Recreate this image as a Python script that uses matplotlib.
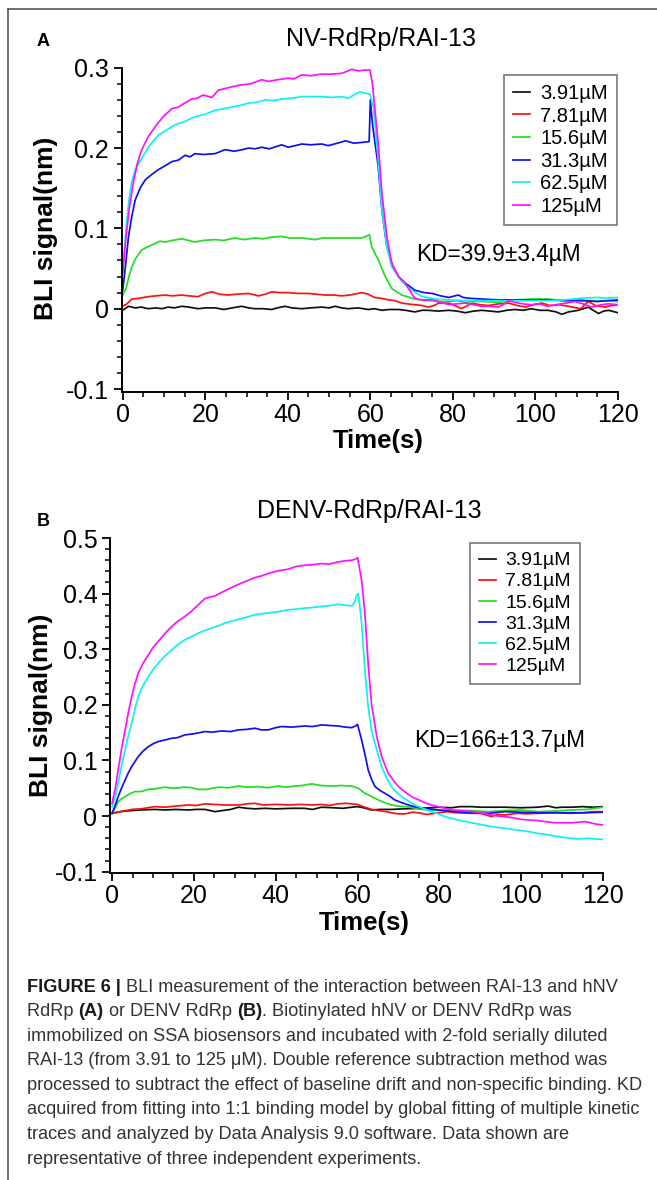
import matplotlib
matplotlib.use('Agg')
import matplotlib.pyplot as plt
from matplotlib.lines import Line2D
from matplotlib.ticker import MultipleLocator, FuncFormatter

plt.rcParams['font.family'] = ['Liberation Sans', 'DejaVu Sans']
plt.rcParams['axes.unicode_minus'] = False

conc_labels = ['3.91µM', '7.81µM', '15.6µM', '31.3µM', '62.5µM', '125µM']
line_colors = ['#111111', '#ff1010', '#22dd22', '#1010ee', '#10f0f0', '#ff10ff']

# ---- panel A: NV-RdRp / RAI-13 ----
a_t_391 = [0, 1.4, 3, 4.5, 6.2, 8, 9.5, 11, 12.5, 14.3, 16, 18.3, 20, 22.4, 24.5, 26.5, 28.8, 30.5, 32, 34, 36.1,
           37.5, 39.3, 41, 43.4, 45.5, 48.2, 50, 51.5, 53, 54.7, 57, 59.5, 61, 62.8, 64.5, 66.8, 68.5, 70.8, 72.5,
           74, 76.5, 79, 81, 83, 85, 87, 89, 91, 93, 95, 97, 99, 101, 103, 105, 106.4, 108, 110.4, 112.8, 114,
           115.3, 116.5, 117.7, 120]
a_v_391 = [-0.002, 0.003, 0.001, 0.002, 0.000, 0.001, 0.000, 0.002, 0.001, 0.003, 0.002, 0.000, 0.001, 0.001,
           -0.001, 0.001, 0.003, 0.001, 0.000, 0.000, -0.001, 0.001, 0.003, 0.001, 0.000, 0.001, 0.002, 0.001,
           0.003, 0.001, 0.000, 0.001, -0.001, 0.000, -0.002, -0.001, -0.001, -0.002, -0.004, -0.002, -0.002,
           -0.003, -0.002, -0.003, -0.005, -0.003, -0.002, -0.003, -0.004, -0.002, -0.001, -0.002, 0.000, -0.002,
           -0.002, -0.004, -0.007, -0.004, -0.002, 0.002, -0.002, -0.006, -0.003, -0.002, -0.005]

a_t_781 = [0, 1, 2.2, 4, 6.2, 8, 10.3, 12, 14.3, 16, 18.3, 20, 21.6, 23.5, 25.6, 27.5, 30.5, 32.9, 34.5, 36.1, 38,
           40.1, 42.5, 44.9, 47, 49, 51, 53, 55, 58, 59.5, 61, 62.5, 64.4, 66, 67.6, 69, 70.8, 72.5, 74, 75.5, 76.5,
           78, 79, 80.5, 82, 83.2, 84.6, 86.5, 88.6, 91, 93.5, 95.5, 97.6, 99.5, 101.5, 103.5, 105.6, 108, 111,
           112.8, 114.5, 116.8, 118.5, 120]
a_v_781 = [0.003, 0.006, 0.012, 0.013, 0.015, 0.016, 0.017, 0.016, 0.017, 0.016, 0.015, 0.019, 0.021, 0.018,
           0.017, 0.018, 0.019, 0.016, 0.018, 0.021, 0.020, 0.020, 0.019, 0.019, 0.018, 0.017, 0.017, 0.016, 0.017,
           0.020, 0.018, 0.014, 0.013, 0.011, 0.010, 0.007, 0.006, 0.005, 0.004, 0.002, 0.004, 0.007, 0.007, 0.007,
           0.004, 0.000, 0.003, 0.007, 0.005, 0.004, 0.006, 0.007, 0.004, 0.002, 0.005, 0.007, 0.004, 0.005, 0.003,
           0.000, 0.009, 0.004, 0.002, 0.004, 0.005]

a_t_156 = [0, 0.8, 1.5, 2.2, 3.2, 4.6, 6, 7.8, 9, 10.3, 12, 14.3, 16, 17.5, 19.5, 22.4, 24.5, 27.2, 29.5, 32, 34,
           36, 38.5, 40.5, 43.4, 45, 46.6, 48.5, 50.6, 53, 55.5, 58, 59.8, 60.3, 61.9, 63.6, 65.2, 67.6, 70.8, 73,
           75, 77, 79, 81, 83, 85, 87, 91, 95, 99, 103, 107, 111, 115, 117, 120]
a_v_156 = [0.017, 0.025, 0.040, 0.052, 0.063, 0.073, 0.077, 0.081, 0.084, 0.083, 0.085, 0.087, 0.085, 0.083,
           0.085, 0.086, 0.085, 0.088, 0.086, 0.088, 0.087, 0.089, 0.090, 0.088, 0.088, 0.087, 0.086, 0.088, 0.088,
           0.088, 0.088, 0.088, 0.092, 0.077, 0.061, 0.040, 0.025, 0.017, 0.012, 0.010, 0.010, 0.009, 0.009, 0.010,
           0.008, 0.009, 0.009, 0.008, 0.011, 0.012, 0.012, 0.010, 0.011, 0.009, 0.010, 0.009]

a_t_313 = [0, 0.7, 1.4, 2.2, 3, 4.2, 5.4, 7, 8.6, 10.3, 11.9, 13.5, 15.1, 16.3, 17.5, 19.5, 22.4, 24.8, 27, 29, 30.5,
           32, 33.7, 35.5, 38.5, 40.1, 41.8, 43.4, 45.5, 48.2, 49.8, 52, 54, 56, 58, 59.7, 60, 60.5, 61.9, 62.8, 64,
           65.2, 66.8, 68.4, 70.8, 73, 75, 77, 79, 81.3, 82.5, 83.8, 87, 91, 95, 99, 103, 107, 111, 115, 117.5, 120]
a_v_313 = [0.023, 0.055, 0.090, 0.115, 0.135, 0.150, 0.160, 0.167, 0.173, 0.178, 0.183, 0.185, 0.191, 0.189,
           0.193, 0.192, 0.193, 0.198, 0.196, 0.198, 0.200, 0.199, 0.201, 0.199, 0.204, 0.201, 0.203, 0.205, 0.204,
           0.205, 0.203, 0.206, 0.209, 0.206, 0.207, 0.208, 0.260, 0.230, 0.177, 0.122, 0.077, 0.056, 0.040, 0.032,
           0.023, 0.020, 0.019, 0.016, 0.014, 0.017, 0.014, 0.013, 0.012, 0.011, 0.011, 0.011, 0.011, 0.010, 0.010,
           0.009, 0.010, 0.011]

a_t_625 = [0, 0.8, 1.5, 2.2, 3, 4.6, 6.5, 8.6, 10.5, 12.7, 15, 17.5, 20, 22.4, 24.5, 26.4, 28.5, 30.5, 32.5, 34.5,
           36.5, 38.5, 41, 43.4, 46, 48.2, 50.5, 53.1, 54.7, 56, 57.5, 59, 59.9, 60.8, 61.9, 62.8, 64, 65.2, 67.6,
           70, 72.5, 75.7, 79, 83, 87, 91, 95, 99, 103, 107, 111, 115, 117.5, 120]
a_v_625 = [0.045, 0.100, 0.135, 0.158, 0.173, 0.187, 0.203, 0.216, 0.222, 0.229, 0.233, 0.239, 0.242, 0.247,
           0.249, 0.251, 0.253, 0.256, 0.257, 0.260, 0.259, 0.261, 0.262, 0.264, 0.264, 0.264, 0.263, 0.264, 0.262,
           0.266, 0.270, 0.268, 0.267, 0.250, 0.185, 0.123, 0.077, 0.052, 0.034, 0.023, 0.015, 0.012, 0.011, 0.010,
           0.010, 0.010, 0.010, 0.010, 0.010, 0.011, 0.013, 0.014, 0.013, 0.014]

a_t_125 = [0, 0.8, 1.6, 2.5, 3.5, 4.6, 6.3, 8.2, 10, 11.9, 13.5, 15, 16.7, 18, 19.5, 21.6, 23.2, 25.5, 28, 31, 33.7,
           35.3, 37.5, 40.1, 41.5, 43.4, 45.5, 48.2, 50.5, 53.1, 55.5, 57.1, 58.5, 59.9, 60.5, 61.9, 62.8, 64, 65.2,
           66.8, 68.4, 70, 70.8, 72.5, 74.9, 77, 79, 81, 83, 85, 87, 89, 91, 92.5, 93.5, 95, 97, 99, 101, 103, 105,
           107.5, 109.6, 111.5, 113.6, 116, 117.7, 120]
a_v_125 = [0.044, 0.090, 0.125, 0.155, 0.180, 0.198, 0.215, 0.229, 0.240, 0.249, 0.251, 0.256, 0.261, 0.262,
           0.266, 0.263, 0.272, 0.275, 0.278, 0.280, 0.285, 0.283, 0.285, 0.287, 0.286, 0.291, 0.290, 0.292, 0.292,
           0.293, 0.298, 0.296, 0.297, 0.297, 0.280, 0.206, 0.144, 0.090, 0.056, 0.040, 0.032, 0.019, 0.013, 0.011,
           0.011, 0.008, 0.005, 0.006, 0.007, 0.005, 0.003, 0.003, 0.002, 0.006, 0.010, 0.008, 0.006, 0.005, 0.006,
           0.003, 0.005, 0.007, 0.009, 0.006, 0.002, 0.005, 0.006, 0.005]

# ---- panel B: DENV-RdRp / RAI-13 ----
b_t_391 = [0, 2, 4.8, 7, 10.5, 13, 15.5, 18.7, 20.5, 22.7, 25.2, 27, 29, 30.9, 33, 35, 37.4, 40, 43.9, 47, 49, 51.2,
           54, 56.5, 58.6, 60, 61.5, 63.4, 65.5, 68.3, 71, 75.7, 79.7, 83, 85, 87.9, 90, 92, 96, 100, 104, 106.6,
           108.5, 110, 112.3, 115, 117.5, 120]
b_v_391 = [0.005, 0.008, 0.010, 0.011, 0.012, 0.011, 0.012, 0.011, 0.012, 0.012, 0.008, 0.010, 0.012, 0.016,
           0.014, 0.013, 0.014, 0.013, 0.014, 0.014, 0.012, 0.016, 0.015, 0.014, 0.016, 0.017, 0.015, 0.011, 0.012,
           0.012, 0.013, 0.014, 0.016, 0.015, 0.017, 0.017, 0.016, 0.016, 0.016, 0.015, 0.016, 0.018, 0.015, 0.016,
           0.016, 0.017, 0.016, 0.017]

b_t_781 = [0, 2, 4.8, 7, 10.5, 13, 15.5, 18.7, 20.5, 22.7, 25, 27.5, 30.9, 33, 34.9, 37, 40, 43.1, 46, 49, 51.2, 53,
           55.3, 57, 58.6, 60, 61.8, 63.5, 65.1, 67, 68.3, 70, 71.6, 73.5, 74.8, 77, 79.7, 82, 84, 87.9, 90, 92.8,
           94, 96, 99, 101, 104, 108, 112.3, 115, 117.5, 120]
b_v_781 = [0.005, 0.008, 0.012, 0.013, 0.017, 0.016, 0.018, 0.020, 0.019, 0.022, 0.021, 0.020, 0.020, 0.022,
           0.023, 0.020, 0.021, 0.020, 0.021, 0.020, 0.021, 0.019, 0.022, 0.023, 0.022, 0.021, 0.016, 0.012, 0.010,
           0.008, 0.006, 0.004, 0.004, 0.007, 0.006, 0.003, 0.006, 0.008, 0.006, 0.005, 0.005, -0.001, 0.003,
           0.002, 0.005, 0.004, 0.005, 0.006, 0.005, 0.006, 0.008, 0.008]

b_t_156 = [0, 0.8, 1.5, 2.3, 3.2, 4.3, 5.6, 7, 8.9, 10.5, 12.9, 15, 17.8, 19.5, 21.1, 23, 26, 28.5, 30.9, 33, 35.7,
           38, 40.6, 42.5, 44.7, 46.5, 48.8, 51, 53.7, 56, 58.6, 60.2, 61.8, 63.5, 65.1, 66.7, 68.3, 70, 71.6, 73.5,
           75.7, 78, 79.7, 83, 87.9, 92, 96, 100, 104, 108, 112.3, 116, 120]
b_v_156 = [0.005, 0.015, 0.026, 0.031, 0.035, 0.040, 0.044, 0.044, 0.048, 0.049, 0.052, 0.050, 0.052, 0.051,
           0.048, 0.048, 0.052, 0.051, 0.054, 0.052, 0.053, 0.051, 0.054, 0.052, 0.054, 0.055, 0.058, 0.055, 0.054,
           0.055, 0.054, 0.050, 0.041, 0.035, 0.029, 0.024, 0.020, 0.018, 0.017, 0.015, 0.012, 0.011, 0.011, 0.010,
           0.010, 0.008, 0.010, 0.011, 0.008, 0.009, 0.011, 0.012, 0.016]

b_t_313 = [0, 0.8, 1.5, 2.3, 3.2, 4, 4.8, 5.6, 6.4, 7.6, 8.9, 10, 11.3, 13, 14.6, 16, 17.8, 20, 22.7, 24.5, 26.8, 29,
           30.9, 33, 34.9, 36.5, 38.2, 40, 41.4, 44, 47.1, 49, 51.2, 53, 55.3, 57, 58.6, 59.5, 60, 61, 62, 62.6,
           63.5, 64.3, 65.5, 66.7, 68, 69.1, 70.5, 72.4, 74.5, 76.5, 79.7, 83.8, 87.9, 92, 96, 100, 104, 108, 112.3,
           116, 120]
b_v_313 = [0.005, 0.020, 0.035, 0.050, 0.065, 0.078, 0.089, 0.098, 0.107, 0.117, 0.125, 0.130, 0.134, 0.137,
           0.140, 0.141, 0.146, 0.148, 0.152, 0.151, 0.153, 0.152, 0.155, 0.156, 0.158, 0.155, 0.155, 0.159, 0.161,
           0.160, 0.162, 0.161, 0.164, 0.163, 0.162, 0.160, 0.159, 0.162, 0.165, 0.137, 0.105, 0.083, 0.065, 0.053,
           0.046, 0.041, 0.035, 0.029, 0.025, 0.020, 0.016, 0.014, 0.011, 0.008, 0.006, 0.005, 0.008, 0.007, 0.006,
           0.006, 0.006, 0.006, 0.007]

b_t_625 = [0, 0.8, 1.5, 2.3, 3.2, 4, 4.8, 5.6, 6.4, 7.6, 8.9, 10, 11.3, 13, 14.6, 16, 17.8, 19.5, 21.1, 22.7, 24.3,
           26, 27.6, 29, 30.9, 33, 34.9, 37, 39, 41, 43.1, 45, 47.1, 49, 51.2, 53, 55.3, 57, 58.6, 59.3, 59.8, 60.2,
           61, 61.8, 62.6, 63.4, 64.7, 65.9, 67, 68.3, 69.5, 70.8, 72.5, 74, 76, 78.1, 79.7, 81.4, 83, 84.6, 86,
           87.9, 90, 92, 94, 96, 98, 100, 102, 104, 106, 108.2, 110, 112.3, 114, 116.4, 118, 120]
b_v_625 = [0.017, 0.035, 0.059, 0.090, 0.119, 0.145, 0.167, 0.192, 0.215, 0.235, 0.251, 0.263, 0.275, 0.288,
           0.299, 0.308, 0.317, 0.323, 0.329, 0.334, 0.338, 0.342, 0.347, 0.350, 0.354, 0.358, 0.362, 0.364, 0.366,
           0.368, 0.371, 0.372, 0.374, 0.375, 0.377, 0.378, 0.381, 0.379, 0.378, 0.385, 0.397, 0.400, 0.347, 0.263,
           0.197, 0.155, 0.119, 0.089, 0.070, 0.053, 0.043, 0.035, 0.027, 0.020, 0.014, 0.008, 0.004, -0.001, -0.004,
           -0.007, -0.009, -0.012, -0.015, -0.018, -0.020, -0.022, -0.024, -0.026, -0.028, -0.031, -0.033, -0.036,
           -0.038, -0.040, -0.041, -0.040, -0.041, -0.042]

b_t_125 = [0, 0.8, 1.5, 2.3, 3.2, 4, 4.8, 5.6, 6.4, 7.6, 8.9, 10, 11.3, 13, 14.6, 16, 17.8, 19.5, 21.1, 22.7, 24,
           25.2, 27, 29.2, 31, 33.3, 35, 36.6, 38.5, 40.6, 43.1, 45, 47.1, 49, 51.2, 53, 55.3, 57, 58.6, 59.5, 60,
           61, 61.8, 62.6, 63.4, 64.7, 65.9, 67.5, 68.8, 70, 71.5, 73.2, 75, 76.5, 78, 79.7, 81.5, 83, 85.5, 87.9,
           90, 92.8, 94.5, 96, 98, 100, 102, 104, 106, 108.2, 110, 112.3, 114, 115.6, 117, 118, 120]
b_v_125 = [0.023, 0.050, 0.083, 0.120, 0.155, 0.187, 0.215, 0.238, 0.257, 0.275, 0.290, 0.303, 0.314, 0.329,
           0.341, 0.350, 0.359, 0.369, 0.380, 0.391, 0.394, 0.396, 0.403, 0.411, 0.417, 0.424, 0.429, 0.432, 0.437,
           0.441, 0.444, 0.449, 0.451, 0.452, 0.454, 0.453, 0.457, 0.459, 0.460, 0.462, 0.465, 0.424, 0.365, 0.275,
           0.203, 0.143, 0.107, 0.077, 0.064, 0.053, 0.044, 0.035, 0.029, 0.024, 0.020, 0.017, 0.014, 0.011, 0.010,
           0.008, 0.006, 0.002, 0.000, -0.001, -0.003, -0.006, -0.007, -0.008, -0.010, -0.012, -0.012, -0.012,
           -0.011, -0.010, -0.012, -0.014, -0.016]

panel_a = [(a_t_391, a_v_391), (a_t_781, a_v_781), (a_t_156, a_v_156),
           (a_t_313, a_v_313), (a_t_625, a_v_625), (a_t_125, a_v_125)]
panel_b = [(b_t_391, b_v_391), (b_t_781, b_v_781), (b_t_156, b_v_156),
           (b_t_313, b_v_313), (b_t_625, b_v_625), (b_t_125, b_v_125)]

W, H = 657, 1180
fig = plt.figure(figsize=(W / 100, H / 100), dpi=100)


def fx(px):
    return px / W


def fy(py):
    return 1 - py / H


def ytick_fmt(v, pos):
    return '0' if abs(v) < 1e-9 else f'{v:.1f}'


def make_panel(box, series, ylim, yticks, xleft, leg_anchor, leg_size):
    ax = fig.add_axes(box)
    for (t, v), c, lab in zip(series, line_colors, conc_labels):
        ax.plot(t, v, color=c, lw=1.25, label=lab)
    ax.set_xlim(xleft, 120)
    ax.set_ylim(*ylim)
    ax.set_xticks([0, 20, 40, 60, 80, 100, 120])
    ax.set_yticks(yticks)
    ax.xaxis.set_minor_locator(MultipleLocator(5))
    ax.yaxis.set_minor_locator(MultipleLocator(0.02))
    ax.yaxis.set_major_formatter(FuncFormatter(ytick_fmt))
    for s in ['top', 'right']:
        ax.spines[s].set_visible(False)
    for s in ['left', 'bottom']:
        ax.spines[s].set_linewidth(1.4)
    ax.tick_params(which='major', direction='out', length=6, width=1.3, labelsize=18, pad=2)
    ax.tick_params(which='minor', direction='out', length=3.5, width=1.1)
    ax.tick_params(axis='y', pad=3)
    leg = ax.legend(loc='upper right', bbox_to_anchor=leg_anchor, fontsize=leg_size, frameon=True,
                    fancybox=False, edgecolor='#555555', handlelength=0.85, handletextpad=0.5,
                    labelspacing=0.18, borderpad=0.45, borderaxespad=0)
    leg.get_frame().set_linewidth(1.2)
    return ax


ax_a = make_panel([fx(121.5), fy(392), fx(618) - fx(121.5), fy(67.7) - fy(392)], panel_a,
                  (-0.1037, 0.3), [-0.1, 0, 0.1, 0.2, 0.3], -0.3, (0.998, 0.978), 14.5)
ax_b = make_panel([fx(110), fy(873), fx(603) - fx(110), fy(538) - fy(873)], panel_b,
                  (-0.1023, 0.5), [-0.1, 0, 0.1, 0.2, 0.3, 0.4, 0.5], -0.5, (0.953, 0.985), 14)

# panel letters, titles, axis labels, KD values
fig.text(fx(43), fy(42), 'A', fontsize=13, fontweight='bold', ha='center', va='center')
fig.text(fx(43), fy(521), 'B', fontsize=13, fontweight='bold', ha='center', va='center')
fig.text(fx(381), fy(39), 'NV-RdRp/RAI-13', fontsize=18, ha='center', va='center')
fig.text(fx(369), fy(511), 'DENV-RdRp/RAI-13', fontsize=18, ha='center', va='center')
fig.text(fx(46), fy(228), 'BLI signal(nm)', fontsize=19, fontweight='bold', rotation=90,
         ha='center', va='center')
fig.text(fx(41), fy(705), 'BLI signal(nm)', fontsize=19, fontweight='bold', rotation=90,
         ha='center', va='center')
fig.text(fx(378), fy(441), 'Time(s)', fontsize=18.5, fontweight='bold', ha='center', va='center')
fig.text(fx(364), fy(923), 'Time(s)', fontsize=18.5, fontweight='bold', ha='center', va='center')
fig.text(fx(498), fy(254), 'KD=39.9±3.4µM', fontsize=16.3, ha='center', va='center')
fig.text(fx(500), fy(740), 'KD=166±13.7µM', fontsize=16.3, ha='center', va='center')

# frame (top and left edges only)
fig.add_artist(Line2D([fx(8), 1], [fy(9), fy(9)], transform=fig.transFigure, color='#555555', lw=1.2))
fig.add_artist(Line2D([fx(8), fx(8)], [fy(9), 0], transform=fig.transFigure, color='#555555', lw=1.2))

# caption, with bold runs
caption = [
    [('FIGURE 6 | ', True), ('BLI measurement of the interaction between RAI-13 and hNV', False)],
    [('RdRp ', False), ('(A)', True), (' or DENV RdRp ', False), ('(B)', True),
     ('. Biotinylated hNV or DENV RdRp was', False)],
    [('immobilized on SSA biosensors and incubated with 2-fold serially diluted', False)],
    [('RAI-13 (from 3.91 to 125 μM). Double reference subtraction method was', False)],
    [('processed to subtract the effect of baseline drift and non-specific binding. KD', False)],
    [('acquired from fitting into 1:1 binding model by global fitting of multiple kinetic', False)],
    [('traces and analyzed by Data Analysis 9.0 software. Data shown are', False)],
    [('representative of three independent experiments.', False)],
]
renderer = fig.canvas.get_renderer()
for i, runs in enumerate(caption):
    x = fx(27)
    y = fy(987 + i * 24.6)
    for s, bold in runs:
        t = fig.text(x, y, s, fontsize=13.1, fontweight='bold' if bold else 'normal',
                     color='#1a1a1a' if bold else '#333333', ha='left', va='center')
        x += t.get_window_extent(renderer).width / W

fig.savefig('out.png', dpi=100)
